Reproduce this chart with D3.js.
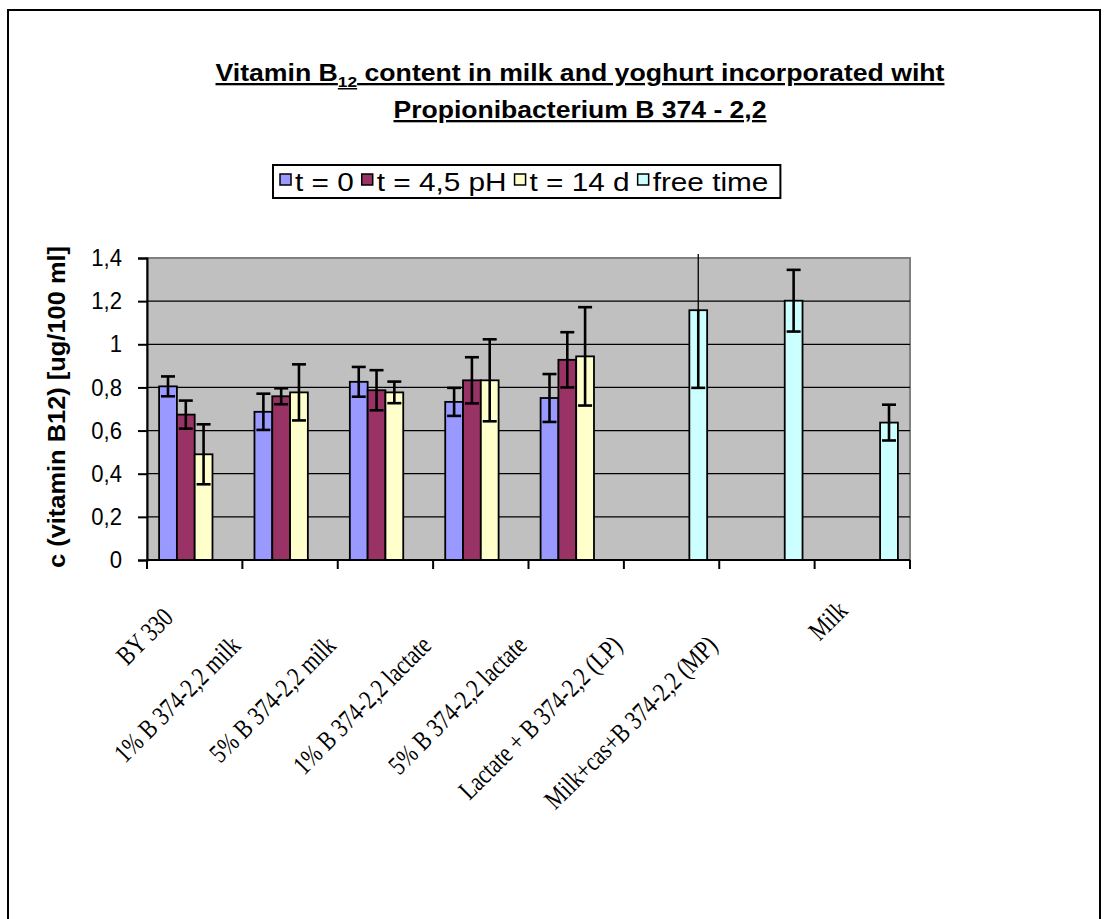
<!DOCTYPE html>
<html><head><meta charset="utf-8">
<script src="https://cdn.jsdelivr.net/npm/d3@7"></script>
<style>body{margin:0;background:#fff} svg{display:block}</style>
</head><body>
<svg id="chart" width="1107" height="919"></svg>
<script>
// ---- data ----
const categories = ["BY 330","1% B 374-2,2 milk","5% B 374-2,2 milk","1% B 374-2,2 lactate","5% B 374-2,2 lactate","Lactate + B 374-2,2 (LP)","Milk+cas+B 374-2,2 (MP)","Milk"];
const seriesNames = ["t = 0","t = 4,5 pH","t = 14 d","free time"];
const seriesColors = ["#9999FF","#993366","#FFFFCC","#CCFFFF"];
const valuesT0   = [0.805,0.687,0.826,0.733,0.751,null,null,null];
const errorsT0   = [0.046,0.084,0.069,0.065,0.111,null,null,null];
const valuesT45  = [0.674,0.759,0.787,0.833,0.928,null,null,null];
const errorsT45  = [0.065,0.037,0.093,0.107,0.128,null,null,null];
const valuesT14  = [0.490,0.777,0.777,0.833,0.944,null,null,null];
const errorsT14  = [0.139,0.130,0.050,0.190,0.228,null,null,null];
const valuesFree = [null,null,null,null,null,1.158,1.202,0.637];
const errorsFree = [null,null,null,null,null,0.360,0.143,0.083];
const yTickValues = [0,0.2,0.4,0.6,0.8,1,1.2,1.4];
const yTickLabels = ["0","0,2","0,4","0,6","0,8","1","1,2","1,4"];
const titleLine1 = ["Vitamin B","12"," content in milk and yoghurt incorporated wiht"];
const titleLine2 = "Propionibacterium B 374 - 2,2";
const yAxisTitle = "c (vitamin B12) [ug/100 ml]";

const seriesValues = [valuesT0, valuesT45, valuesT14, valuesFree];
const seriesErrors = [errorsT0, errorsT45, errorsT14, errorsFree];

// ---- layout ----
const svg = d3.select("#chart");
const plot = {left:147, right:910, top:258, bottom:560};
const sans = "Arial, 'Liberation Sans', sans-serif";
const serif = "'Times New Roman', 'Liberation Serif', serif";

svg.append("rect").attr("x",8).attr("y",10).attr("width",1092).attr("height",960)
  .attr("fill","none").attr("stroke","#000").attr("stroke-width",2);

const x0 = d3.scaleBand().domain(categories).range([plot.left, plot.right]).paddingInner(0).paddingOuter(0);
const x1 = d3.scaleBand().domain(seriesNames).range([0, x0.bandwidth()]).paddingInner(0).paddingOuter(0.68);
const y = d3.scaleLinear().domain([0,1.4]).range([plot.bottom, plot.top]);

// plot background
svg.append("rect").attr("x",plot.left).attr("y",plot.top)
  .attr("width",plot.right-plot.left).attr("height",plot.bottom-plot.top)
  .attr("fill","#C0C0C0").attr("stroke","#808080").attr("stroke-width",2);

// gridlines
svg.append("g").selectAll("line").data(yTickValues.filter(v=>v>0 && v<1.4)).join("line")
  .attr("x1",plot.left).attr("x2",plot.right)
  .attr("y1",d=>y(d)).attr("y2",d=>y(d))
  .attr("stroke","#000").attr("stroke-width",1.2);

// bars
const barData = [];
seriesNames.forEach((s,si)=>{
  categories.forEach((c,ci)=>{
    const v = seriesValues[si][ci];
    if (v!=null) barData.push({s, si, c, v, e: seriesErrors[si][ci]});
  });
});
svg.append("g").selectAll("rect").data(barData).join("rect")
  .attr("x",d=>x0(d.c)+x1(d.s))
  .attr("y",d=>y(d.v))
  .attr("width",x1.bandwidth())
  .attr("height",d=>y(0)-y(d.v))
  .attr("fill",d=>seriesColors[d.si])
  .attr("stroke","#000").attr("stroke-width",1.8);

// error bars
const capW = 14;
const eg = svg.append("g").attr("stroke","#000").attr("fill","none");
barData.forEach(d=>{
  const cx = x0(d.c)+x1(d.s)+x1.bandwidth()/2;
  const lo = y(d.v-d.e);
  const hiVal = d.v+d.e;
  const clipped = hiVal > y.domain()[1];
  const hi = clipped ? y(y.domain()[1]) - 4 : y(hiVal);
  if (clipped) {
    eg.append("line").attr("x1",cx).attr("x2",cx).attr("y1",lo).attr("y2",y(d.v)).attr("stroke-width",2.6);
    eg.append("line").attr("x1",cx).attr("x2",cx).attr("y1",y(d.v)).attr("y2",hi).attr("stroke-width",1.3);
  } else {
    eg.append("line").attr("x1",cx).attr("x2",cx).attr("y1",lo).attr("y2",hi).attr("stroke-width",2.6);
    eg.append("line").attr("x1",cx-capW/2).attr("x2",cx+capW/2).attr("y1",hi).attr("y2",hi).attr("stroke-width",2.6);
  }
  eg.append("line").attr("x1",cx-capW/2).attr("x2",cx+capW/2).attr("y1",lo).attr("y2",lo).attr("stroke-width",2.6);
});

// y axis
const yAxis = d3.axisLeft(y).tickValues(yTickValues).tickFormat((d,i)=>yTickLabels[i]).tickSize(9).tickPadding(16);
const yg = svg.append("g").attr("transform",`translate(${plot.left},0)`).call(yAxis);
yg.select(".domain").attr("stroke","#000").attr("stroke-width",2);
yg.selectAll(".tick line").attr("stroke","#000").attr("stroke-width",2);
yg.selectAll(".tick text").attr("font-family",sans).attr("font-size",24).attr("fill","#000")
  .each(function(){ const n=this; const L=n.getComputedTextLength(); d3.select(n).attr("textLength",L*0.92).attr("lengthAdjust","spacingAndGlyphs"); });

// x axis (ticks at category boundaries)
svg.append("line").attr("x1",plot.left).attr("x2",plot.right).attr("y1",plot.bottom).attr("y2",plot.bottom)
  .attr("stroke","#000").attr("stroke-width",2);
const boundaries = categories.map(c=>x0(c)).concat([x0(categories[categories.length-1])+x0.bandwidth()]);
svg.append("g").selectAll("line").data(boundaries).join("line")
  .attr("x1",d=>d).attr("x2",d=>d).attr("y1",plot.bottom).attr("y2",plot.bottom+9)
  .attr("stroke","#000").attr("stroke-width",2);

// x labels
const xl = svg.append("g");
categories.forEach(c=>{
  const cx = x0(c)+x0.bandwidth()/2;
  const t = xl.append("text").text(c)
    .attr("font-family",serif).attr("font-size",27)
    .attr("text-anchor","end").attr("fill","#000");
  const L = t.node().getComputedTextLength()*0.8;
  t.attr("textLength",L).attr("lengthAdjust","spacingAndGlyphs");
  const Lx = L*0.707 + 13;
  const b = Math.min(64, 12 + 0.4*Lx);
  const a = b - 16;
  t.attr("transform",`translate(${cx-a},${plot.bottom+10+b+13}) rotate(-45)`);
});

// y title
svg.append("text").text(yAxisTitle)
  .attr("transform","translate(65,407) rotate(-90)")
  .attr("text-anchor","middle")
  .attr("font-family",sans)
  .attr("font-weight","bold").attr("font-size",24)
  .attr("textLength",322).attr("lengthAdjust","spacingAndGlyphs");

// title
const t1 = svg.append("text").attr("x",580).attr("y",81).attr("text-anchor","middle")
  .attr("font-family",sans).attr("font-weight","bold").attr("font-size",23)
  .attr("text-decoration","underline")
  .attr("textLength",729).attr("lengthAdjust","spacingAndGlyphs");
t1.append("tspan").text(titleLine1[0]);
t1.append("tspan").text(titleLine1[1]).attr("font-size",15).attr("dy",6);
t1.append("tspan").text(titleLine1[2]).attr("dy",-6);
svg.append("text").attr("x",580).attr("y",118).attr("text-anchor","middle")
  .attr("font-family",sans).attr("font-weight","bold").attr("font-size",23)
  .attr("text-decoration","underline")
  .attr("textLength",373).attr("lengthAdjust","spacingAndGlyphs")
  .text(titleLine2);

// legend
const lg = svg.append("g");
const lgBox = lg.append("rect").attr("fill","#fff").attr("stroke","#000").attr("stroke-width",2);
let lx = 280;
const lyTop = 165, lyH = 33;
seriesNames.forEach((s,i)=>{
  lg.append("rect").attr("x",lx).attr("y",lyTop+9).attr("width",11).attr("height",11)
    .attr("fill",seriesColors[i]).attr("stroke","#000").attr("stroke-width",1.5);
  const t = lg.append("text").attr("x",lx+15).attr("y",lyTop+26).text(s)
    .attr("font-family",sans).attr("font-size",25).attr("fill","#000");
  const L = t.node().getComputedTextLength()*1.19;
  t.attr("textLength",L).attr("lengthAdjust","spacingAndGlyphs");
  lx += 15 + L + 8;
});
lgBox.attr("x",273).attr("y",lyTop).attr("width",lx-273+4).attr("height",lyH);
</script>
</body></html>
